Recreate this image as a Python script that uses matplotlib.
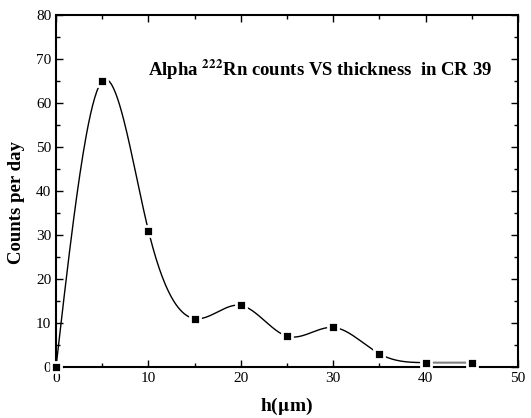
import numpy as np
import matplotlib
matplotlib.use("Agg")
import matplotlib.pyplot as plt
from matplotlib.ticker import MultipleLocator

# thickness (um) and counts per day
thickness = [0, 5, 10, 15, 20, 25, 30, 35, 40, 45]
counts = [0, 65, 31, 11, 14, 7, 9, 3, 1, 1]


def natural_spline(x, y, xs):
    # plain natural cubic spline, no scipy needed
    x = np.asarray(x, float)
    y = np.asarray(y, float)
    n = len(x)
    h = np.diff(x)
    A = np.zeros((n, n))
    b = np.zeros(n)
    A[0, 0] = 1
    A[-1, -1] = 1
    for i in range(1, n - 1):
        A[i, i - 1] = h[i - 1]
        A[i, i] = 2 * (h[i - 1] + h[i])
        A[i, i + 1] = h[i]
        b[i] = 3 * ((y[i + 1] - y[i]) / h[i] - (y[i] - y[i - 1]) / h[i - 1])
    c = np.linalg.solve(A, b)
    out = np.zeros_like(xs)
    for k, xv in enumerate(xs):
        i = min(np.searchsorted(x, xv, side="right") - 1, n - 2)
        dx = xv - x[i]
        bi = (y[i + 1] - y[i]) / h[i] - h[i] * (2 * c[i] + c[i + 1]) / 3
        di = (c[i + 1] - c[i]) / (3 * h[i])
        out[k] = y[i] + bi * dx + c[i] * dx ** 2 + di * dx ** 3
    return out


plt.rcParams["font.family"] = ["Liberation Serif", "DejaVu Serif"]
plt.rcParams["mathtext.fontset"] = "stix"

fig = plt.figure(figsize=(5.31, 4.18), dpi=100)
ax = fig.add_axes([0.1055, 0.122, 0.87, 0.842])

xs = np.linspace(thickness[0], thickness[-1], 400)
ys = natural_spline(thickness, counts, xs)
last = xs >= thickness[-2]
ax.plot(xs[~last], ys[~last], color="black", lw=1.0, zorder=2)
ax.plot(xs[last], ys[last], color="gray", lw=1.5, zorder=2)
ax.plot(thickness, counts, ls="none", marker="s", ms=7.5, color="black",
        markeredgecolor="white", markeredgewidth=2.0, zorder=3, clip_on=False)

ax.set_xlim(0, 50)
ax.set_ylim(0, 80)
ax.xaxis.set_major_locator(MultipleLocator(10))
ax.xaxis.set_minor_locator(MultipleLocator(5))
ax.yaxis.set_major_locator(MultipleLocator(10))
ax.yaxis.set_minor_locator(MultipleLocator(5))
ax.tick_params(which="both", direction="in", top=True, right=True, labelsize=11)
ax.tick_params(which="major", length=5, width=1)
ax.tick_params(which="minor", length=3, width=1)
for s in ax.spines.values():
    s.set_linewidth(1.5)

ax.set_xlabel(r"h($\mathbf{\mu}$m)", fontsize=14, fontweight="bold", labelpad=8)
ax.set_ylabel("Counts per day", fontsize=13.5, fontweight="bold")
ax.yaxis.set_label_coords(-0.068, 0.466)

ax.text(28.6, 67.5, r"Alpha $^{\mathbf{222}}$Rn counts VS thickness  in CR 39",
        fontsize=13.5, fontweight="bold", ha="center", va="center")

fig.savefig("out.png", dpi=100)
